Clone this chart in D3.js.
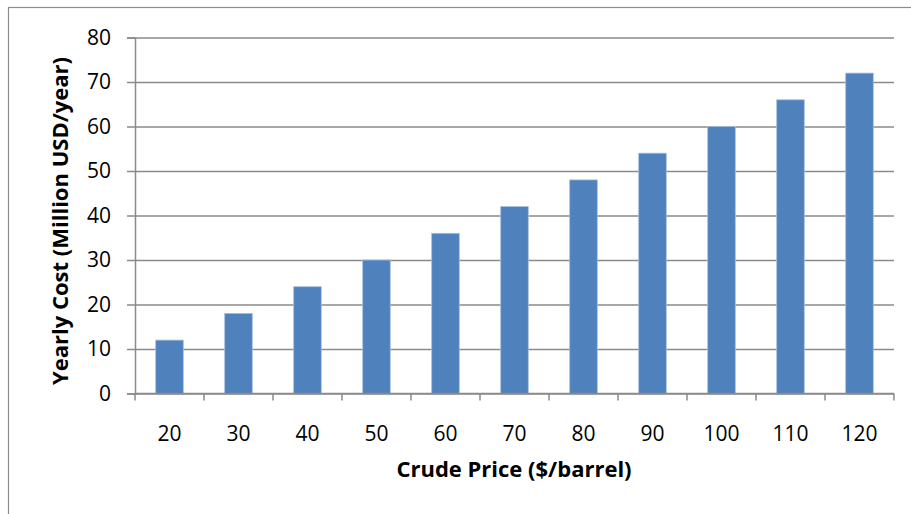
<!DOCTYPE html>
<html>
<head>
<meta charset="utf-8">
<script src="https://cdn.jsdelivr.net/npm/d3@7/dist/d3.min.js"></script>
<style>
  html, body { margin: 0; padding: 0; background: #fff; }
  svg { display: block; }
</style>
</head>
<body>
<svg id="chart" width="911" height="514"></svg>
<script>
// Crude price scenarios and the resulting yearly cost
const crudePrices = [20, 30, 40, 50, 60, 70, 80, 90, 100, 110, 120];
const yearlyCost = [12, 18, 24, 30, 36, 42, 48, 54, 60, 66, 72];
const yTicks = [0, 10, 20, 30, 40, 50, 60, 70, 80];

const svg = d3.select("#chart");
const W = 911, H = 514;
const margin = { left: 135, right: 17, top: 37.5, bottom: 120.5 };
const font = "'Open Sans', sans-serif";
const gridColor = "#8a8a8a";

svg.append("rect")
  .attr("x", 8.5).attr("y", 7.5)
  .attr("width", W).attr("height", H)
  .attr("fill", "none").attr("stroke", "#8c8c8c").attr("stroke-width", 1.2);

const x = d3.scaleBand()
  .domain(crudePrices)
  .range([margin.left, W - margin.right])
  .paddingInner(0.6).paddingOuter(0.3);

const y = d3.scaleLinear()
  .domain([0, 80])
  .range([H - margin.bottom, margin.top]);

// horizontal gridlines with short outward ticks
const yAxis = d3.axisLeft(y).tickValues(yTicks).tickSize(8).tickPadding(16);
const gy = svg.append("g").attr("transform", `translate(${margin.left},0)`).call(yAxis);
gy.select(".domain").attr("stroke", gridColor).attr("stroke-width", 1.5);
gy.selectAll(".tick line").attr("stroke", gridColor).attr("stroke-width", 1.5);
gy.selectAll(".tick").append("line")
  .attr("x1", 0).attr("x2", W - margin.right - margin.left)
  .attr("stroke", gridColor).attr("stroke-width", 1.5);
gy.selectAll(".tick text")
  .attr("font-family", font).attr("font-size", 21).attr("fill", "#000");

// bars
svg.append("g").selectAll("rect")
  .data(crudePrices.map((p, i) => ({ p, v: yearlyCost[i] })))
  .join("rect")
  .attr("x", d => x(d.p))
  .attr("width", x.bandwidth())
  .attr("y", d => y(d.v))
  .attr("height", d => y(0) - y(d.v))
  .attr("fill", "#4f81bd")
  .attr("stroke", "#a7bfde").attr("stroke-width", 0.8);

// category axis with tick marks between categories
const xEdges = d3.range(crudePrices.length + 1).map(i => margin.left + i * (W - margin.left - margin.right) / crudePrices.length);
const gx = svg.append("g");
gx.append("line")
  .attr("x1", margin.left).attr("x2", W - margin.right)
  .attr("y1", y(0)).attr("y2", y(0))
  .attr("stroke", gridColor).attr("stroke-width", 1.5);
gx.selectAll("line.edge").data(xEdges).join("line")
  .attr("class", "edge")
  .attr("x1", d => d).attr("x2", d => d)
  .attr("y1", y(0)).attr("y2", y(0) + 7)
  .attr("stroke", gridColor).attr("stroke-width", 1.5);
gx.selectAll("text").data(crudePrices).join("text")
  .attr("x", d => x(d) + x.bandwidth() / 2)
  .attr("y", y(0) + 47)
  .attr("text-anchor", "middle")
  .attr("font-family", font).attr("font-size", 21).attr("fill", "#000")
  .text(d => d);

// axis titles
svg.append("text")
  .attr("x", 514)
  .attr("y", 477)
  .attr("text-anchor", "middle")
  .attr("font-family", font).attr("font-weight", "bold").attr("font-size", 22)
  .text("Crude Price ($/barrel)");

svg.append("text")
  .attr("transform", "translate(68,221) rotate(-90)")
  .attr("text-anchor", "middle")
  .attr("font-family", font).attr("font-weight", "bold").attr("font-size", 22)
  .text("Yearly Cost (Million USD/year)");
</script>
</body>
</html>
